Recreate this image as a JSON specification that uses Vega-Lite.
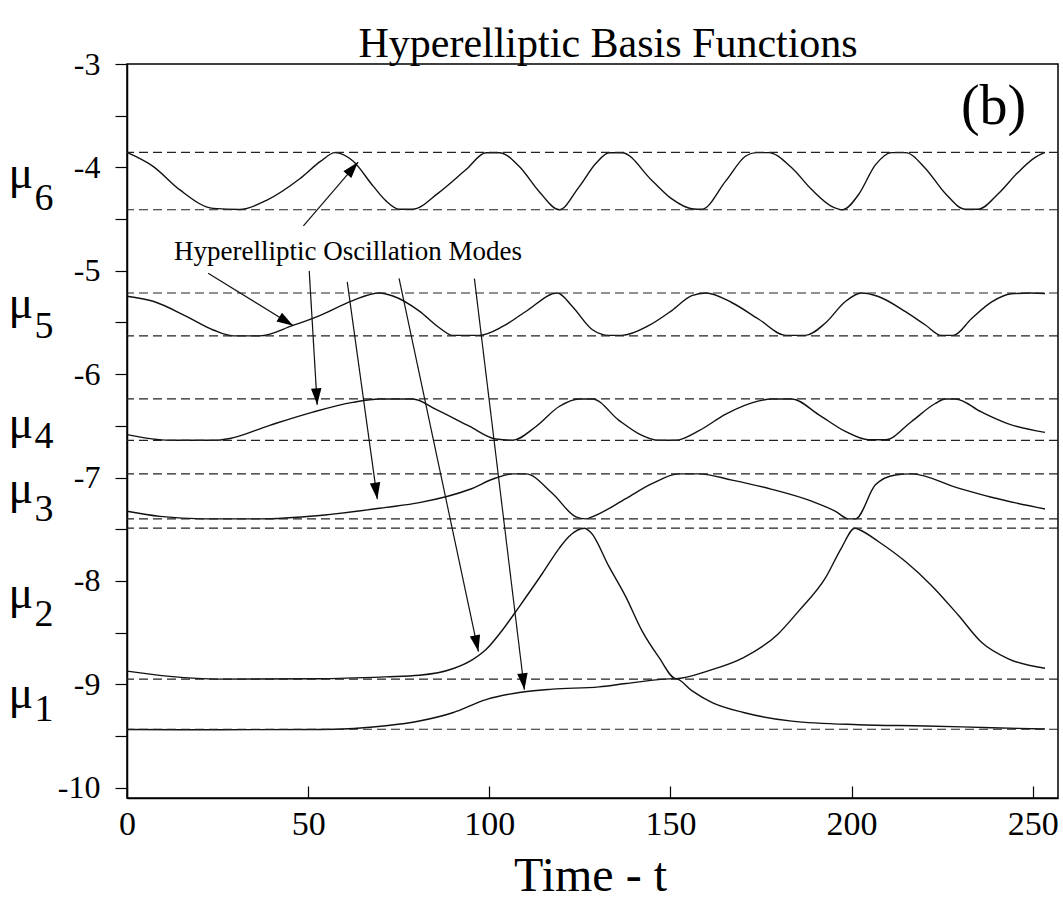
{
  "$schema": "https://vega.github.io/schema/vega-lite/v6.json",
  "width": 931,
  "height": 734,
  "autosize": {"type": "none"},
  "padding": {"left": 127, "top": 64, "right": 5, "bottom": 105},
  "background": "white",
  "config": {
    "font": "Liberation Serif",
    "view": {"stroke": "black", "strokeWidth": 1.5},
    "axis": {
      "domainColor": "black",
      "domainWidth": 1.5,
      "tickColor": "black",
      "tickWidth": 1.2,
      "labelColor": "black",
      "labelFont": "Liberation Serif",
      "titleFont": "Liberation Serif",
      "titleColor": "black",
      "grid": false,
      "labelOverlap": false,
      "labelFlush": false
    }
  },
  "datasets": {
    "curves": [
      {"s": "mu6", "t": 0, "v": -3.855}, {"s": "mu6", "t": 7.2, "v": -3.99}, {"s": "mu6", "t": 14.6, "v": -4.218}, {"s": "mu6", "t": 23.8, "v": -4.397}, {"s": "mu6", "t": 31.1, "v": -4.407}, {"s": "mu6", "t": 38.5, "v": -4.319}, {"s": "mu6", "t": 47.7, "v": -4.11}, {"s": "mu6", "t": 53.5, "v": -3.94}, {"s": "mu6", "t": 57.4, "v": -3.857}, {"s": "mu6", "t": 62.3, "v": -3.936}, {"s": "mu6", "t": 67.9, "v": -4.179}, {"s": "mu6", "t": 71.5, "v": -4.324}, {"s": "mu6", "t": 75.2, "v": -4.405}, {"s": "mu6", "t": 78.8, "v": -4.405}, {"s": "mu6", "t": 86.0, "v": -4.246}, {"s": "mu6", "t": 93.6, "v": -4.021}, {"s": "mu6", "t": 99.1, "v": -3.858}, {"s": "mu6", "t": 102.8, "v": -3.858}, {"s": "mu6", "t": 108.3, "v": -3.992}, {"s": "mu6", "t": 113.8, "v": -4.235}, {"s": "mu6", "t": 119.3, "v": -4.41}, {"s": "mu6", "t": 124.8, "v": -4.188}, {"s": "mu6", "t": 129.4, "v": -3.963}, {"s": "mu6", "t": 133.1, "v": -3.858}, {"s": "mu6", "t": 136.6, "v": -3.858}, {"s": "mu6", "t": 144.9, "v": -4.127}, {"s": "mu6", "t": 150.4, "v": -4.305}, {"s": "mu6", "t": 155.9, "v": -4.4}, {"s": "mu6", "t": 158.7, "v": -4.405}, {"s": "mu6", "t": 165.3, "v": -4.131}, {"s": "mu6", "t": 170.8, "v": -3.89}, {"s": "mu6", "t": 173.6, "v": -3.857}, {"s": "mu6", "t": 177.1, "v": -3.857}, {"s": "mu6", "t": 183.5, "v": -4.004}, {"s": "mu6", "t": 189.0, "v": -4.215}, {"s": "mu6", "t": 194.5, "v": -4.377}, {"s": "mu6", "t": 197.6, "v": -4.41}, {"s": "mu6", "t": 201.9, "v": -4.265}, {"s": "mu6", "t": 206.6, "v": -3.976}, {"s": "mu6", "t": 211.0, "v": -3.857}, {"s": "mu6", "t": 214.9, "v": -3.857}, {"s": "mu6", "t": 220.4, "v": -4.01}, {"s": "mu6", "t": 225.9, "v": -4.253}, {"s": "mu6", "t": 231.4, "v": -4.405}, {"s": "mu6", "t": 235.0, "v": -4.405}, {"s": "mu6", "t": 240.5, "v": -4.256}, {"s": "mu6", "t": 246.0, "v": -4.047}, {"s": "mu6", "t": 250.7, "v": -3.903}, {"s": "mu6", "t": 253.4, "v": -3.855},

      {"s": "mu5", "t": 0, "v": -5.247}, {"s": "mu5", "t": 7.2, "v": -5.295}, {"s": "mu5", "t": 16.4, "v": -5.441}, {"s": "mu5", "t": 23.8, "v": -5.573}, {"s": "mu5", "t": 29.3, "v": -5.63}, {"s": "mu5", "t": 36.6, "v": -5.63}, {"s": "mu5", "t": 45.8, "v": -5.529}, {"s": "mu5", "t": 53.2, "v": -5.433}, {"s": "mu5", "t": 62.3, "v": -5.288}, {"s": "mu5", "t": 69.7, "v": -5.215}, {"s": "mu5", "t": 73.4, "v": -5.244}, {"s": "mu5", "t": 80.7, "v": -5.39}, {"s": "mu5", "t": 86.2, "v": -5.551}, {"s": "mu5", "t": 89.9, "v": -5.625}, {"s": "mu5", "t": 97.2, "v": -5.625}, {"s": "mu5", "t": 103.7, "v": -5.539}, {"s": "mu5", "t": 110.1, "v": -5.394}, {"s": "mu5", "t": 118.8, "v": -5.215}, {"s": "mu5", "t": 123.0, "v": -5.348}, {"s": "mu5", "t": 128.4, "v": -5.568}, {"s": "mu5", "t": 133.1, "v": -5.625}, {"s": "mu5", "t": 136.6, "v": -5.625}, {"s": "mu5", "t": 144.1, "v": -5.529}, {"s": "mu5", "t": 150.4, "v": -5.385}, {"s": "mu5", "t": 155.9, "v": -5.241}, {"s": "mu5", "t": 159.8, "v": -5.215}, {"s": "mu5", "t": 166.9, "v": -5.307}, {"s": "mu5", "t": 174.4, "v": -5.469}, {"s": "mu5", "t": 181.8, "v": -5.625}, {"s": "mu5", "t": 187.3, "v": -5.625}, {"s": "mu5", "t": 192.8, "v": -5.505}, {"s": "mu5", "t": 198.3, "v": -5.297}, {"s": "mu5", "t": 202.8, "v": -5.215}, {"s": "mu5", "t": 207.4, "v": -5.249}, {"s": "mu5", "t": 214.9, "v": -5.396}, {"s": "mu5", "t": 220.4, "v": -5.525}, {"s": "mu5", "t": 224.8, "v": -5.625}, {"s": "mu5", "t": 228.1, "v": -5.625}, {"s": "mu5", "t": 233.1, "v": -5.464}, {"s": "mu5", "t": 238.6, "v": -5.304}, {"s": "mu5", "t": 244.1, "v": -5.223}, {"s": "mu5", "t": 249.6, "v": -5.215}, {"s": "mu5", "t": 253.4, "v": -5.22},

      {"s": "mu4", "t": 0, "v": -6.585}, {"s": "mu4", "t": 11.8, "v": -6.64}, {"s": "mu4", "t": 23.8, "v": -6.64}, {"s": "mu4", "t": 28.4, "v": -6.622}, {"s": "mu4", "t": 39.4, "v": -6.495}, {"s": "mu4", "t": 51.3, "v": -6.367}, {"s": "mu4", "t": 62.3, "v": -6.273}, {"s": "mu4", "t": 69.7, "v": -6.24}, {"s": "mu4", "t": 78.9, "v": -6.24}, {"s": "mu4", "t": 85.3, "v": -6.341}, {"s": "mu4", "t": 94.5, "v": -6.504}, {"s": "mu4", "t": 101.8, "v": -6.628}, {"s": "mu4", "t": 106.4, "v": -6.64}, {"s": "mu4", "t": 112.9, "v": -6.507}, {"s": "mu4", "t": 119.3, "v": -6.313}, {"s": "mu4", "t": 124.8, "v": -6.24}, {"s": "mu4", "t": 128.5, "v": -6.24}, {"s": "mu4", "t": 135.8, "v": -6.447}, {"s": "mu4", "t": 141.3, "v": -6.577}, {"s": "mu4", "t": 146.8, "v": -6.64}, {"s": "mu4", "t": 151.5, "v": -6.64}, {"s": "mu4", "t": 157.9, "v": -6.547}, {"s": "mu4", "t": 165.3, "v": -6.387}, {"s": "mu4", "t": 174.4, "v": -6.259}, {"s": "mu4", "t": 178.0, "v": -6.24}, {"s": "mu4", "t": 183.5, "v": -6.24}, {"s": "mu4", "t": 190.9, "v": -6.391}, {"s": "mu4", "t": 198.3, "v": -6.554}, {"s": "mu4", "t": 204.7, "v": -6.635}, {"s": "mu4", "t": 209.4, "v": -6.635}, {"s": "mu4", "t": 216.5, "v": -6.46}, {"s": "mu4", "t": 223.1, "v": -6.284}, {"s": "mu4", "t": 225.9, "v": -6.24}, {"s": "mu4", "t": 228.7, "v": -6.24}, {"s": "mu4", "t": 235.8, "v": -6.366}, {"s": "mu4", "t": 243.3, "v": -6.481}, {"s": "mu4", "t": 253.4, "v": -6.563},

      {"s": "mu3", "t": 0, "v": -7.326}, {"s": "mu3", "t": 9.1, "v": -7.376}, {"s": "mu3", "t": 21.0, "v": -7.4}, {"s": "mu3", "t": 36.6, "v": -7.4}, {"s": "mu3", "t": 53.2, "v": -7.367}, {"s": "mu3", "t": 71.5, "v": -7.289}, {"s": "mu3", "t": 80.7, "v": -7.243}, {"s": "mu3", "t": 94.5, "v": -7.116}, {"s": "mu3", "t": 101.8, "v": -7.005}, {"s": "mu3", "t": 106.4, "v": -6.965}, {"s": "mu3", "t": 110.1, "v": -6.965}, {"s": "mu3", "t": 117.4, "v": -7.152}, {"s": "mu3", "t": 123.9, "v": -7.38}, {"s": "mu3", "t": 126.6, "v": -7.4}, {"s": "mu3", "t": 128.4, "v": -7.38}, {"s": "mu3", "t": 137.7, "v": -7.204}, {"s": "mu3", "t": 144.9, "v": -7.06}, {"s": "mu3", "t": 152.3, "v": -6.965}, {"s": "mu3", "t": 157.9, "v": -6.965}, {"s": "mu3", "t": 167.0, "v": -7.025}, {"s": "mu3", "t": 178.0, "v": -7.114}, {"s": "mu3", "t": 189.0, "v": -7.229}, {"s": "mu3", "t": 195.6, "v": -7.327}, {"s": "mu3", "t": 199.2, "v": -7.4}, {"s": "mu3", "t": 201.1, "v": -7.4}, {"s": "mu3", "t": 206.6, "v": -7.071}, {"s": "mu3", "t": 212.1, "v": -6.975}, {"s": "mu3", "t": 216.5, "v": -6.965}, {"s": "mu3", "t": 229.5, "v": -7.103}, {"s": "mu3", "t": 238.6, "v": -7.191}, {"s": "mu3", "t": 253.4, "v": -7.304},

      {"s": "mu2", "t": 0, "v": -8.873}, {"s": "mu2", "t": 11.8, "v": -8.924}, {"s": "mu2", "t": 25.6, "v": -8.95}, {"s": "mu2", "t": 53.2, "v": -8.947}, {"s": "mu2", "t": 71.5, "v": -8.928}, {"s": "mu2", "t": 80.7, "v": -8.913}, {"s": "mu2", "t": 89.9, "v": -8.85}, {"s": "mu2", "t": 95.4, "v": -8.761}, {"s": "mu2", "t": 99.1, "v": -8.664}, {"s": "mu2", "t": 103.7, "v": -8.472}, {"s": "mu2", "t": 108.3, "v": -8.248}, {"s": "mu2", "t": 114.7, "v": -7.926}, {"s": "mu2", "t": 119.3, "v": -7.685}, {"s": "mu2", "t": 122.0, "v": -7.57}, {"s": "mu2", "t": 126.3, "v": -7.49}, {"s": "mu2", "t": 128.0, "v": -7.53}, {"s": "mu2", "t": 133.1, "v": -7.865}, {"s": "mu2", "t": 137.7, "v": -8.155}, {"s": "mu2", "t": 142.1, "v": -8.479}, {"s": "mu2", "t": 146.8, "v": -8.738}, {"s": "mu2", "t": 151.5, "v": -8.945}, {"s": "mu2", "t": 160.6, "v": -8.868}, {"s": "mu2", "t": 170.2, "v": -8.742}, {"s": "mu2", "t": 179.6, "v": -8.518}, {"s": "mu2", "t": 185.4, "v": -8.292}, {"s": "mu2", "t": 192.8, "v": -7.971}, {"s": "mu2", "t": 197.2, "v": -7.682}, {"s": "mu2", "t": 200.9, "v": -7.49}, {"s": "mu2", "t": 202.5, "v": -7.51}, {"s": "mu2", "t": 207.4, "v": -7.619}, {"s": "mu2", "t": 214.9, "v": -7.813}, {"s": "mu2", "t": 222.0, "v": -8.041}, {"s": "mu2", "t": 229.5, "v": -8.332}, {"s": "mu2", "t": 235.8, "v": -8.591}, {"s": "mu2", "t": 243.3, "v": -8.754}, {"s": "mu2", "t": 253.4, "v": -8.845},

      {"s": "mu1", "t": 0, "v": -9.438}, {"s": "mu1", "t": 25.6, "v": -9.44}, {"s": "mu1", "t": 53.2, "v": -9.437}, {"s": "mu1", "t": 71.5, "v": -9.401}, {"s": "mu1", "t": 80.7, "v": -9.355}, {"s": "mu1", "t": 89.9, "v": -9.275}, {"s": "mu1", "t": 99.1, "v": -9.148}, {"s": "mu1", "t": 108.3, "v": -9.079}, {"s": "mu1", "t": 117.4, "v": -9.047}, {"s": "mu1", "t": 130.3, "v": -9.025}, {"s": "mu1", "t": 137.7, "v": -8.993}, {"s": "mu1", "t": 151.5, "v": -8.945}, {"s": "mu1", "t": 155.9, "v": -9.061}, {"s": "mu1", "t": 161.4, "v": -9.175}, {"s": "mu1", "t": 170.2, "v": -9.273}, {"s": "mu1", "t": 183.5, "v": -9.356}, {"s": "mu1", "t": 201.9, "v": -9.391}, {"s": "mu1", "t": 220.4, "v": -9.403}, {"s": "mu1", "t": 238.6, "v": -9.42}, {"s": "mu1", "t": 253.4, "v": -9.432}
    ],
    "levels": [
      {"band": "mu6", "edge": "upper", "v": -3.855}, {"band": "mu6", "edge": "lower", "v": -4.41},
      {"band": "mu5", "edge": "upper", "v": -5.215}, {"band": "mu5", "edge": "lower", "v": -5.63},
      {"band": "mu4", "edge": "upper", "v": -6.24}, {"band": "mu4", "edge": "lower", "v": -6.64},
      {"band": "mu3", "edge": "upper", "v": -6.965}, {"band": "mu3", "edge": "lower", "v": -7.4},
      {"band": "mu2", "edge": "upper", "v": -7.49}, {"band": "mu2", "edge": "lower", "v": -8.95},
      {"band": "mu1", "edge": "lower", "v": -9.435}
    ],
    "arrows": [
      {"target": "mu6", "t": 48.7, "v": -4.565, "t2": 63.8, "v2": -3.949},
      {"target": "mu5", "t": 22.4, "v": -5.025, "t2": 45.9, "v2": -5.532},
      {"target": "mu4", "t": 50.3, "v": -5.001, "t2": 52.5, "v2": -6.297},
      {"target": "mu3", "t": 60.8, "v": -5.108, "t2": 69.1, "v2": -7.209},
      {"target": "mu2", "t": 75.1, "v": -5.073, "t2": 97.0, "v2": -8.684},
      {"target": "mu1", "t": 95.9, "v": -5.076, "t2": 109.7, "v2": -9.053}
    ],
    "notes": [
      {"kind": "title", "t": 132.8, "v": -2.932, "label": "Hyperelliptic Basis Functions"},
      {"kind": "note", "t": 61.0, "v": -4.896, "label": "Hyperelliptic Oscillation Modes"},
      {"kind": "panel", "t": 239.2, "v": -3.582, "label": "(b)"}
    ],
    "mu": [
      {"part": "base", "t": -29.3, "v": -4.2, "label": "μ"}, {"part": "sub", "t": -22.9, "v": -4.412, "label": "6"},
      {"part": "base", "t": -29.3, "v": -5.456, "label": "μ"}, {"part": "sub", "t": -22.9, "v": -5.65, "label": "5"},
      {"part": "base", "t": -29.3, "v": -6.617, "label": "μ"}, {"part": "sub", "t": -22.9, "v": -6.714, "label": "4"},
      {"part": "base", "t": -29.3, "v": -7.246, "label": "μ"}, {"part": "sub", "t": -22.9, "v": -7.42, "label": "3"},
      {"part": "base", "t": -29.3, "v": -8.261, "label": "μ"}, {"part": "sub", "t": -22.9, "v": -8.435, "label": "2"},
      {"part": "base", "t": -29.3, "v": -9.228, "label": "μ"}, {"part": "sub", "t": -22.9, "v": -9.354, "label": "1"}
    ]
  },
  "layer": [
    {
      "data": {"name": "curves"},
      "mark": {"type": "line", "stroke": "#111", "strokeWidth": 1.4, "interpolate": "monotone"},
      "encoding": {
        "x": {
          "field": "t", "type": "quantitative",
          "scale": {"domain": [0, 257], "nice": false, "zero": false},
          "axis": {
            "values": [0, 50, 100, 150, 200, 250],
            "tickSize": -12,
            "labelPadding": 48,
            "labelBaseline": "alphabetic",
            "labelFont": "Liberation Serif",
            "labelFontSize": 34,
            "title": "Time - t",
            "titleFont": "Liberation Serif",
            "titleFontSize": 48,
            "titleFontWeight": "normal",
            "titleBaseline": "alphabetic",
            "titleAlign": "center",
            "titleX": 463,
            "titleY": 92
          }
        },
        "y": {
          "field": "v", "type": "quantitative",
          "scale": {"domain": [-10.1, -3], "nice": false, "zero": false},
          "axis": {
            "values": [-10, -9.5, -9, -8.5, -8, -7.5, -7, -6.5, -6, -5.5, -5, -4.5, -4, -3.5, -3],
            "labelExpr": "datum.value % 1 === 0 ? ('-' + abs(datum.value)) : ''",
            "tickSize": 12,
            "labelPadding": 15,
            "labelFont": "Liberation Serif",
            "labelFontSize": 32,
            "title": null
          }
        },
        "detail": {"field": "s", "type": "nominal"}
      }
    },
    {
      "data": {"name": "levels"},
      "mark": {"type": "rule", "strokeDash": [9, 5], "stroke": "#222", "strokeWidth": 1.2},
      "encoding": {
        "y": {"field": "v", "type": "quantitative", "scale": {"domain": [-10.1, -3], "nice": false, "zero": false}}
      }
    },
    {
      "data": {"name": "arrows"},
      "mark": {"type": "rule", "stroke": "#111", "strokeWidth": 1.2},
      "encoding": {
        "x": {"field": "t", "type": "quantitative", "scale": {"domain": [0, 257], "nice": false, "zero": false}},
        "y": {"field": "v", "type": "quantitative", "scale": {"domain": [-10.1, -3], "nice": false, "zero": false}},
        "x2": {"field": "t2"},
        "y2": {"field": "v2"}
      }
    },
    {
      "data": {"name": "arrows"},
      "transform": [
        {"calculate": "atan2((datum.t2 - datum.t) * 3.6226, (datum.v2 - datum.v) * 103.38) * 180 / PI", "as": "ang"}
      ],
      "mark": {"type": "point", "shape": "M0,0L-0.95,3L0.95,3Z", "filled": true, "fill": "#000", "stroke": null, "opacity": 1, "size": 121},
      "encoding": {
        "x": {"field": "t2", "type": "quantitative", "scale": {"domain": [0, 257], "nice": false, "zero": false}},
        "y": {"field": "v2", "type": "quantitative", "scale": {"domain": [-10.1, -3], "nice": false, "zero": false}},
        "angle": {"field": "ang", "type": "quantitative", "scale": null}
      }
    },
    {
      "data": {"name": "notes"},
      "transform": [{"filter": "datum.kind === 'title'"}],
      "mark": {"type": "text", "font": "Liberation Serif", "fontSize": 42, "align": "center", "baseline": "alphabetic", "color": "black"},
      "encoding": {
        "x": {"field": "t", "type": "quantitative", "scale": {"domain": [0, 257], "nice": false, "zero": false}},
        "y": {"field": "v", "type": "quantitative", "scale": {"domain": [-10.1, -3], "nice": false, "zero": false}},
        "text": {"field": "label"}
      }
    },
    {
      "data": {"name": "notes"},
      "transform": [{"filter": "datum.kind === 'note'"}],
      "mark": {"type": "text", "font": "Liberation Serif", "fontSize": 27, "align": "center", "baseline": "alphabetic", "color": "black"},
      "encoding": {
        "x": {"field": "t", "type": "quantitative", "scale": {"domain": [0, 257], "nice": false, "zero": false}},
        "y": {"field": "v", "type": "quantitative", "scale": {"domain": [-10.1, -3], "nice": false, "zero": false}},
        "text": {"field": "label"}
      }
    },
    {
      "data": {"name": "notes"},
      "transform": [{"filter": "datum.kind === 'panel'"}],
      "mark": {"type": "text", "font": "Liberation Serif", "fontSize": 56, "align": "center", "baseline": "alphabetic", "color": "black"},
      "encoding": {
        "x": {"field": "t", "type": "quantitative", "scale": {"domain": [0, 257], "nice": false, "zero": false}},
        "y": {"field": "v", "type": "quantitative", "scale": {"domain": [-10.1, -3], "nice": false, "zero": false}},
        "text": {"field": "label"}
      }
    },
    {
      "data": {"name": "mu"},
      "transform": [{"filter": "datum.part === 'base'"}],
      "mark": {"type": "text", "font": "Liberation Serif", "fontSize": 46, "align": "center", "baseline": "alphabetic", "color": "black"},
      "encoding": {
        "x": {"field": "t", "type": "quantitative", "scale": {"domain": [0, 257], "nice": false, "zero": false}},
        "y": {"field": "v", "type": "quantitative", "scale": {"domain": [-10.1, -3], "nice": false, "zero": false}},
        "text": {"field": "label"}
      }
    },
    {
      "data": {"name": "mu"},
      "transform": [{"filter": "datum.part === 'sub'"}],
      "mark": {"type": "text", "font": "Liberation Serif", "fontSize": 38, "align": "center", "baseline": "alphabetic", "color": "black"},
      "encoding": {
        "x": {"field": "t", "type": "quantitative", "scale": {"domain": [0, 257], "nice": false, "zero": false}},
        "y": {"field": "v", "type": "quantitative", "scale": {"domain": [-10.1, -3], "nice": false, "zero": false}},
        "text": {"field": "label"}
      }
    }
  ]
}
